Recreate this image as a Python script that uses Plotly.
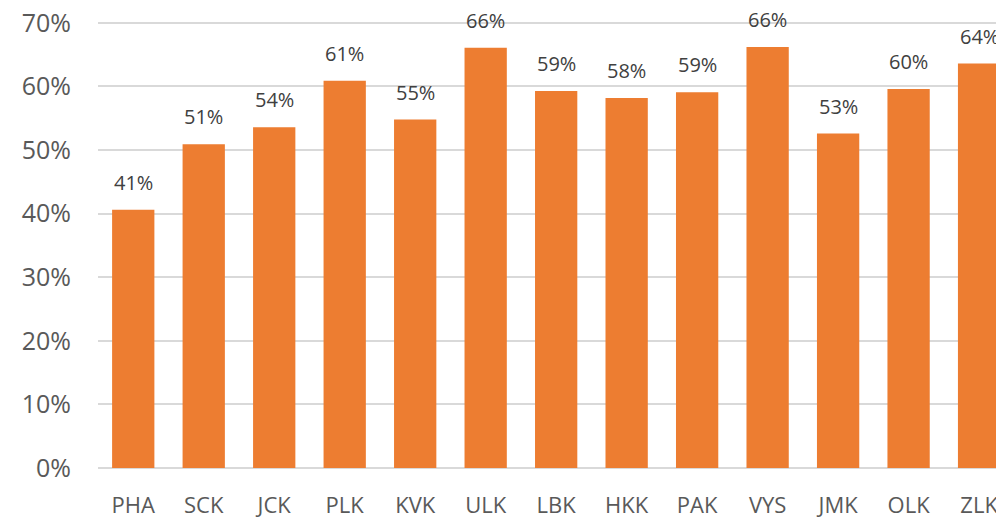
import plotly.graph_objects as go

categories = ["PHA", "SCK", "JCK", "PLK", "KVK", "ULK", "LBK", "HKK", "PAK", "VYS", "JMK", "OLK", "ZLK"]
values = [0.406, 0.509, 0.536, 0.609, 0.548, 0.661, 0.593, 0.582, 0.591, 0.662, 0.526, 0.596, 0.636]
y_ticks = [0, 0.1, 0.2, 0.3, 0.4, 0.5, 0.6, 0.7]

BAR = "#ED7D31"
TXT = "#595959"
FONT = "Open Sans"

fig = go.Figure()
fig.add_trace(go.Bar(
    x=list(range(len(categories))), y=values,
    marker=dict(color=BAR, line=dict(width=0)),
    width=0.6,
    hoverinfo="skip",
))

for i, v in enumerate(values):
    fig.add_annotation(
        x=i, y=v, text=f"{round(v*100)}%", showarrow=False,
        yanchor="bottom", yshift=12,
        font=dict(family=FONT, size=20, color="#404040"),
    )

fig.update_layout(
    width=996, height=518,
    margin=dict(l=98, r=0, t=21, b=50),
    paper_bgcolor="white", plot_bgcolor="white",
    showlegend=False,
    font=dict(family=FONT, color=TXT),
    xaxis=dict(
        range=[-0.5, 12.24], automargin=False,
        tickmode="array", tickvals=list(range(len(categories))), ticktext=categories,
        showgrid=False, zeroline=False, showline=False,
        ticks="", tickfont=dict(size=22, color=TXT, family=FONT),
        ticklabelstandoff=22, ticklabeloverflow="allow",
    ),
    yaxis=dict(
        range=[0, 0.703], automargin=False,
        tickmode="array", tickvals=y_ticks,
        ticktext=[f"{int(t*100)}%" for t in y_ticks],
        showgrid=True, gridcolor="#D9D9D9", gridwidth=2,
        zeroline=True, zerolinecolor="#D9D9D9", zerolinewidth=2,
        showline=False, ticks="",
        tickfont=dict(size=25, color=TXT, family=FONT),
        ticklabelstandoff=26, ticklabeloverflow="allow",
    ),
)

fig.write_html(
    "out.html",
    config={"displayModeBar": False},
    post_script="document.body.style.margin='0';document.body.style.overflow='hidden';",
)
